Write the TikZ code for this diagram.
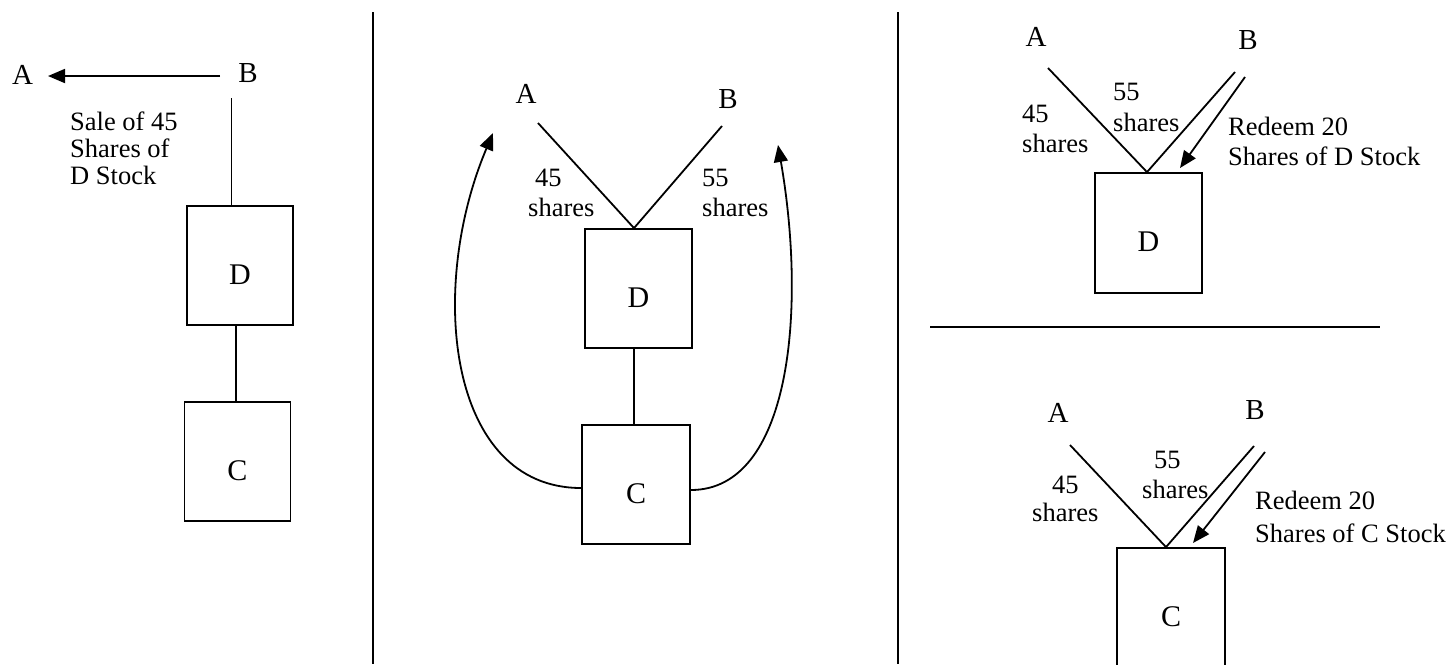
\documentclass[tikz,border=0pt]{standalone}
\usepackage{fontspec}
\setmainfont{Liberation Serif}
\usetikzlibrary{arrows.meta}
\begin{document}
\begin{tikzpicture}[x=1pt,y=-1pt,
  ln/.style={line width=1.8pt},
  arr/.style={line width=1.8pt,-{Triangle[length=17pt,width=14pt]}},
  letter/.style={inner sep=0pt,font=\fontsize{29}{33}\selectfont},
  box/.style={draw,line width=1.8pt,inner sep=0pt,font=\fontsize{30}{34}\selectfont,text height=37pt,text depth=0pt},
  txt/.style={inner sep=0pt,anchor=north west,align=left}]
\useasboundingbox (0,0) rectangle (1450,664);
\fill[white] (0,0) rectangle (1450,664);

% dividers
\draw[ln] (373,12) -- (373,664);
\draw[ln] (898,12) -- (898,664);
\draw[ln] (930,327) -- (1380,327);

% ---------- left panel ----------
\node[letter] (A1) at (22.5,75) {A};
\node[letter] (B1) at (248,73.5) {B};
\node[box,minimum width=106pt,minimum height=119pt] (D1) at (240,265.5) {D};
\node[box,minimum width=106pt,minimum height=119pt] (C1) at (237.5,461.5) {C};
\coordinate (B1s) at (220,76);
\coordinate (A1e) at (48,76);
\draw[arr] (B1s) -- (A1e);
\coordinate (B1d) at (231.5,98);
\draw[ln] (B1d) -- (B1d |- D1.north);
\draw[ln] ([xshift=-4pt]D1.south) -- ([xshift=-1.5pt]C1.north);
\node[txt,font=\fontsize{26.5}{26.7}\selectfont] (t1) at (70,112) {Sale of 45\\Shares of\\D Stock};

% ---------- middle panel ----------
\node[letter] (A2) at (526,94) {A};
\node[letter] (B2) at (728,99) {B};
\node[box,minimum width=107pt,minimum height=119pt] (D2) at (638.5,288.5) {D};
\node[box,minimum width=108pt,minimum height=119pt] (C2) at (636,484.5) {C};
\coordinate (mA) at (538,123);
\coordinate (mB) at (722,126);
\draw[ln] (mA) -- ([xshift=-4.5pt]D2.north) -- (mB);
\draw[ln] ([xshift=-4.5pt]D2.south) -- ([xshift=-2pt]C2.north);
\coordinate (mAt) at (493,133);
\coordinate (mBt) at (778,145);
\draw[arr] ([yshift=-3.5pt]C2.west) .. controls (448,488) and (427,289) .. (mAt);
\draw[arr] ([yshift=-5.5pt]C2.east) .. controls (790,490) and (807,312) .. (mBt);
\node[txt,font=\fontsize{26.5}{30}\selectfont] (t2) at (528,169) {\hspace{7pt}45\\shares};
\node[txt,font=\fontsize{26.5}{30}\selectfont] (t3) at (702,169) {55\\shares};

% ---------- right top panel ----------
\node[letter] (A3) at (1036,37) {A};
\node[letter] (B3) at (1248,40) {B};
\node[box,minimum width=107pt,minimum height=120pt] (D3) at (1148.5,233) {D};
\coordinate (rA) at (1048,68);
\coordinate (rB) at (1235,72);
\draw[ln] (rA) -- ([xshift=-1.5pt]D3.north) -- (rB);
\coordinate (rBa) at (1245,77);
\coordinate (rBt) at (1180,168);
\draw[arr] (rBa) -- (rBt);
\node[txt,font=\fontsize{26.5}{30}\selectfont] (t4) at (1022,105) {45\\shares};
\node[txt,font=\fontsize{26.5}{31}\selectfont] (t5) at (1113,83) {55\\shares};
\node[txt,font=\fontsize{26.5}{30}\selectfont] (t6) at (1228,117) {Redeem 20\\Shares of D Stock};

% ---------- right bottom panel ----------
\node[letter] (A4) at (1058,413) {A};
\node[letter] (B4) at (1255,410) {B};
\node[box,minimum width=108pt,minimum height=120pt] (C3) at (1171,608) {C};
\coordinate (rA2) at (1070,445);
\coordinate (rB2) at (1254,446);
\draw[ln] (rA2) -- ([xshift=-5pt]C3.north) -- (rB2);
\coordinate (rBa2) at (1265,452);
\coordinate (rBt2) at (1193,543);
\draw[arr] (rBa2) -- (rBt2);
\node[txt,align=center,font=\fontsize{26.5}{28}\selectfont] (t7) at (1032,476) {45\\shares};
\node[txt,font=\fontsize{26.5}{30}\selectfont] (t8) at (1142,451) {\hspace{12pt}55\\shares};
\node[txt,font=\fontsize{26.5}{33}\selectfont] (t9) at (1255,491) {Redeem 20\\Shares of C Stock};
\end{tikzpicture}
\end{document}
